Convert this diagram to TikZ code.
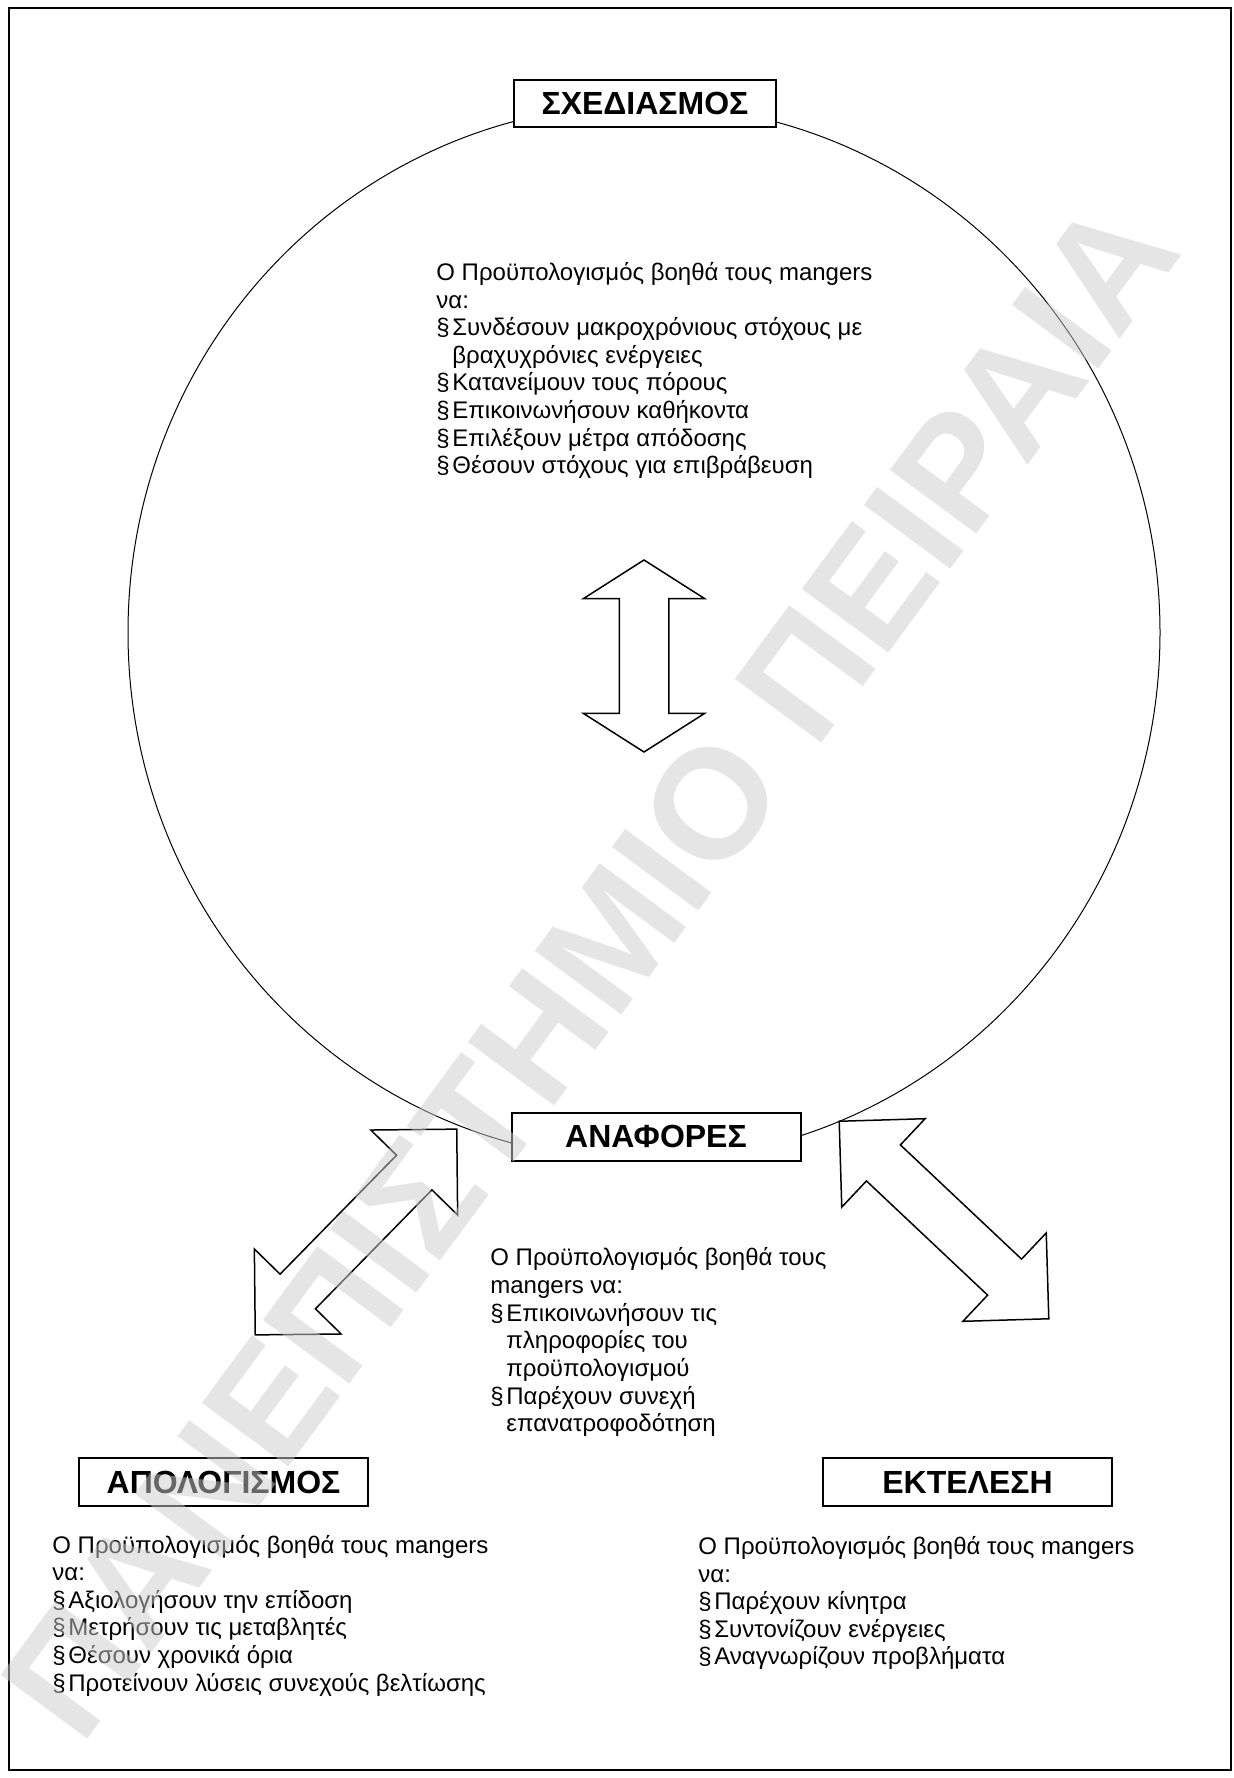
\documentclass[tikz,border=0pt]{standalone}
\usepackage{fontspec}
\setmainfont{Liberation Sans}
\usetikzlibrary{shapes.arrows}

\tikzset{
  stage/.style={draw, line width=1pt, fill=white, inner sep=0pt,
    minimum width=144.5pt, minimum height=24pt,
    font=\fontsize{16}{16}\selectfont\bfseries},
  body/.style={anchor=north west, inner sep=0pt, align=left,
    font=\fontsize{12}{13.8}\selectfont, execute at begin node=\rule{0pt}{11pt}},
  twoway/.style={double arrow, draw, line width=0.75pt, fill=white,
    inner xsep=0pt, inner ysep=12pt, minimum width=60pt, double arrow head extend=18pt},
}
\newcommand{\bul}{\makebox[8pt][l]{§}}
\newcommand{\ind}{\hspace*{8pt}}

\begin{document}
\begin{tikzpicture}[x=0.5pt, y=-0.5pt]
  \useasboundingbox (0,0) rectangle (1233,1778);
  \draw[line width=1pt] (9,8) rectangle (1231,1770);
  \draw[line width=0.5pt] (644,632.5) ellipse [x radius=516, y radius=528];

  % stage boxes
  \node[stage, minimum width=131pt, minimum height=23.5pt] (plan) at (645,103.5) {ΣΧΕΔΙΑΣΜΟΣ};
  \node[stage] (report) at (656,1136.5) {ΑΝΑΦΟΡΕΣ};
  \node[stage] (review) at (223.5,1482) {ΑΠΟΛΟΓΙΣΜΟΣ};
  \node[stage] (run) at (967.5,1482) {ΕΚΤΕΛΕΣΗ};

  % double arrows
  \node[twoway, rotate=90, minimum height=96pt, double arrow tip angle=115] (vert) at (644,656) {};
  \node[twoway, rotate=45.6, minimum height=144pt, double arrow tip angle=90] (lft) at (356,1232) {};
  \node[twoway, rotate=-43.3, minimum height=144pt, double arrow tip angle=90] (rgt) at (944,1220) {};

  % texts
  \node[body] (plantxt) at (436,262) {Ο Προϋπολογισμός βοηθά τους mangers\\
    να:\\
    \bul Συνδέσουν μακροχρόνιους στόχους με\\
    \ind βραχυχρόνιες ενέργειες\\
    \bul Κατανείμουν τους πόρους\\
    \bul Επικοινωνήσουν καθήκοντα\\
    \bul Επιλέξουν μέτρα απόδοσης\\
    \bul Θέσουν στόχους για επιβράβευση};
  \node[body] (reporttxt) at (490,1247.5) {Ο Προϋπολογισμός βοηθά τους\\
    mangers να:\\
    \bul Επικοινωνήσουν τις\\
    \ind πληροφορίες του\\
    \ind προϋπολογισμού\\
    \bul Παρέχουν συνεχή\\
    \ind επανατροφοδότηση};
  \node[body] (reviewtxt) at (52,1534.5) {Ο Προϋπολογισμός βοηθά τους mangers\\
    να:\\
    \bul Αξιολογήσουν την επίδοση\\
    \bul Μετρήσουν τις μεταβλητές\\
    \bul Θέσουν χρονικά όρια\\
    \bul Προτείνουν λύσεις συνεχούς βελτίωσης};
  \node[body] (runtxt) at (698,1536) {Ο Προϋπολογισμός βοηθά τους mangers\\
    να:\\
    \bul Παρέχουν κίνητρα\\
    \bul Συντονίζουν ενέργειες\\
    \bul Αναγνωρίζουν προβλήματα};

  % watermark
  \node[rotate=53.6, text=black!20, opacity=0.5, inner sep=0pt,
    font=\fontsize{78}{78}\selectfont\bfseries] (stamp) at (590,968) {ΠΑΝΕΠΙΣΤΗΜΙΟ ΠΕΙΡΑΙΑ};
\end{tikzpicture}
\end{document}
